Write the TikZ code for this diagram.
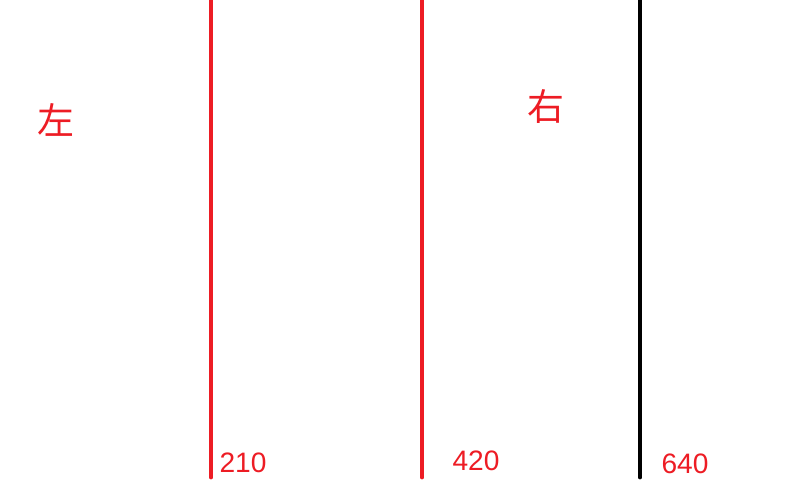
\documentclass[tikz,border=0pt]{standalone}
\usepackage{fontspec}
\setmainfont{Liberation Sans}
\newfontfamily\cjk{Noto Sans CJK SC}
\definecolor{paintred}{RGB}{237,28,36}
\begin{document}
\begin{tikzpicture}[x=0.02cm, y=-0.02cm,
        redline/.style={draw=paintred, line width=2.8pt, line cap=round},
        blackline/.style={draw=black, line width=2.8pt, line cap=round},
        side/.style={text=paintred, font=\cjk\fontsize{21}{21}\selectfont, inner sep=0pt},
        pxlabel/.style={text=paintred, font=\fontsize{16}{16}\selectfont, inner sep=0pt}]
        \useasboundingbox (0,0) rectangle (800,480);
        \coordinate (t1) at (211,-5);
        \coordinate (b1) at (211,477);
        \coordinate (t2) at (422,-5);
        \coordinate (b2) at (422,477);
        \coordinate (t3) at (640,-5);
        \coordinate (b3) at (640,477);
        \draw[redline] (t1)--(b1);
        \draw[redline] (t2)--(b2);
        \draw[blackline] (t3)--(b3);
        \node[side] (left) at (56,120) {左};
        \node[side] (right) at (546,106) {右};
        \node[pxlabel] (m1) at (243,463) {210};
        \node[pxlabel] (m2) at (476,461) {420};
        \node[pxlabel] (m3) at (685,464) {640};
\end{tikzpicture}
\end{document}
